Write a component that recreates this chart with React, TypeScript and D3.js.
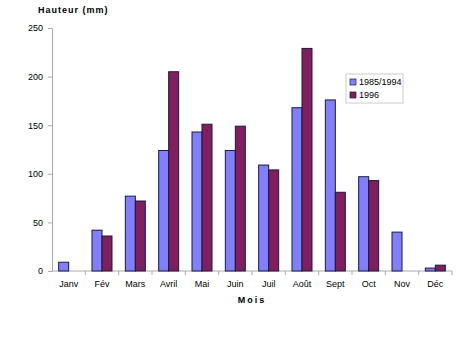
import * as d3 from "d3";
import { useEffect, useRef } from "react";

const months = ["Janv", "Fév", "Mars", "Avril", "Mai", "Juin", "Juil", "Août", "Sept", "Oct", "Nov", "Déc"];
const mean8594 = [9, 42, 77, 124, 143, 124, 109, 168, 176, 97, 40, 3];
const year1996 = [0, 36, 72, 205, 151, 149, 104, 229, 81, 93, 0, 6];
const seriesNames = ["1985/1994", "1996"];
const yTicks = [0, 50, 100, 150, 200, 250];

export default function App() {
  const svgRef = useRef<SVGSVGElement>(null);

  const width = 474;
  const height = 359;
  const margin = { top: 28, right: 22, bottom: 88, left: 52 };
  const colors = ["#8080ff", "#7f1f5f"];

  useEffect(() => {
    const svg = d3.select(svgRef.current);
    svg.selectAll("*").remove();

    const x = d3.scaleBand().domain(months).range([margin.left, width - margin.right]);
    const y = d3.scaleLinear().domain([0, 250]).range([height - margin.bottom, margin.top]);
    const barW = 10;
    const offset = (x.bandwidth() - 2 * barW) / 2;

    const font = "'Liberation Sans', Arial, sans-serif";

    // y axis
    const yAxis = svg.append("g")
      .attr("transform", `translate(${margin.left},0)`)
      .call(d3.axisLeft(y).tickValues(yTicks).tickSize(4).tickSizeOuter(0));
    yAxis.select(".domain").attr("stroke", "#aaa");
    yAxis.selectAll(".tick line").attr("stroke", "#aaa");
    yAxis.selectAll("text").attr("font-family", font).attr("font-size", 9).attr("fill", "#000").attr("dx", -2);

    // x axis
    const base = y(0);
    svg.append("line")
      .attr("x1", margin.left).attr("x2", width - margin.right)
      .attr("y1", base).attr("y2", base)
      .attr("stroke", "#aaa");
    svg.selectAll(".xtick")
      .data(months)
      .enter()
      .append("line")
      .attr("x1", (d) => (x(d) as number) + x.bandwidth())
      .attr("x2", (d) => (x(d) as number) + x.bandwidth())
      .attr("y1", base).attr("y2", base + 4)
      .attr("stroke", "#aaa");
    svg.selectAll(".xlabel")
      .data(months)
      .enter()
      .append("text")
      .attr("x", (d) => (x(d) as number) + x.bandwidth() / 2)
      .attr("y", base + 16)
      .attr("text-anchor", "middle")
      .attr("font-family", font)
      .attr("font-size", 9)
      .text((d) => d);

    // bars
    [mean8594, year1996].forEach((vals, i) => {
      const rows = months.map((m, j) => ({ month: m, value: vals[j] })).filter((d) => d.value > 0);
      svg.selectAll(`.bar-${i}`)
        .data(rows)
        .enter()
        .append("rect")
        .attr("x", (d) => (x(d.month) as number) + offset + i * barW)
        .attr("y", (d) => y(d.value))
        .attr("width", barW)
        .attr("height", (d) => base - y(d.value))
        .attr("fill", colors[i])
        .attr("stroke", "#1a1a3a")
        .attr("stroke-width", 1);
    });

    // titles
    svg.append("text")
      .attr("x", 38).attr("y", 13)
      .attr("font-family", font).attr("font-size", 9).attr("font-weight", "bold")
      .attr("letter-spacing", 1)
      .text("Hauteur (mm)");
    svg.append("text")
      .attr("x", 252).attr("y", 303)
      .attr("text-anchor", "middle")
      .attr("font-family", font).attr("font-size", 9).attr("font-weight", "bold")
      .attr("letter-spacing", 2)
      .text("Mois");

    // legend
    const legend = svg.append("g").attr("transform", "translate(346,74)");
    legend.append("rect")
      .attr("width", 57).attr("height", 29)
      .attr("fill", "#fff").attr("stroke", "#ccc");
    seriesNames.forEach((name, i) => {
      legend.append("rect")
        .attr("x", 4).attr("y", 5 + i * 13)
        .attr("width", 6).attr("height", 6)
        .attr("fill", colors[i]).attr("stroke", "#1a1a3a").attr("stroke-width", 0.7);
      legend.append("text")
        .attr("x", 13).attr("y", 11 + i * 13)
        .attr("font-family", font).attr("font-size", 9)
        .text(name);
    });
  }, []);

  return (
    <svg ref={svgRef} width={width} height={height} style={{ position: "absolute", left: 0, top: 0 }}></svg>
  );
}
